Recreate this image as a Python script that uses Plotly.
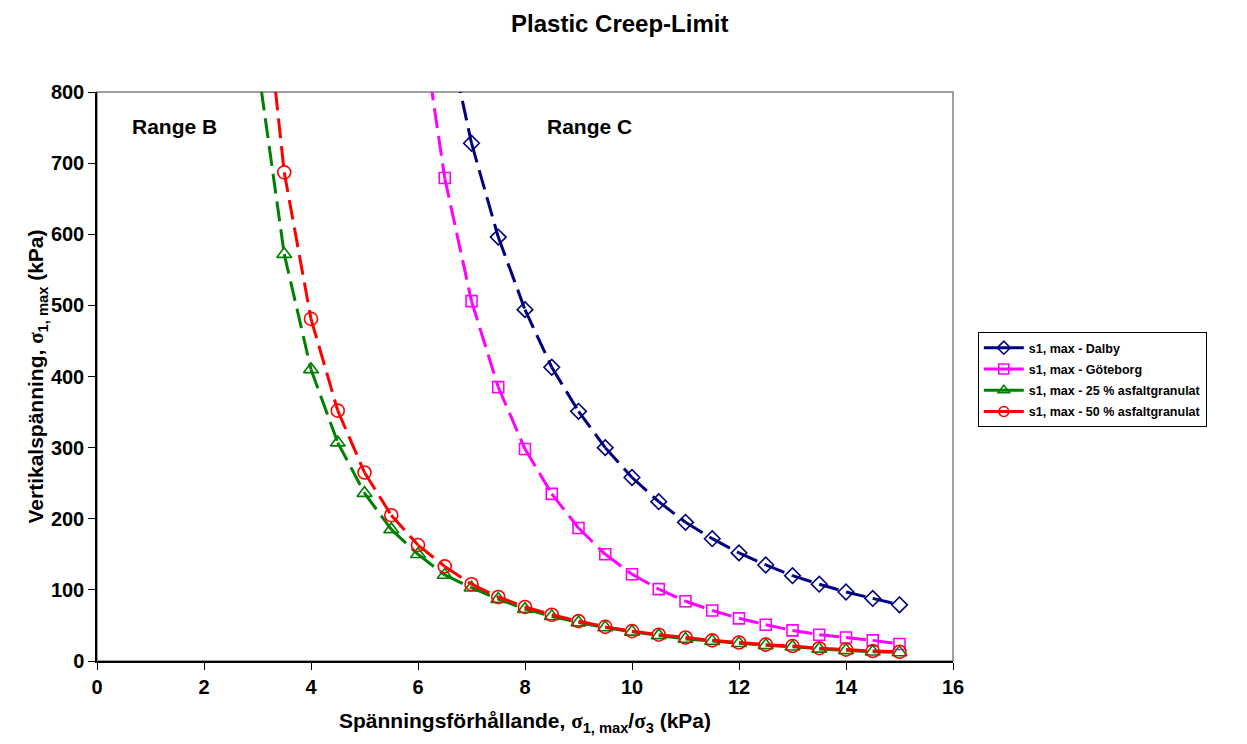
import plotly.graph_objects as go

# Data (x = stress ratio, y = s1,max in kPa); first point of each series lies above the axis range
x_dalby = [6.5, 7, 7.5, 8, 8.5, 9, 9.5, 10, 10.5, 11, 11.5, 12, 12.5, 13, 13.5, 14, 14.5, 15]
y_dalby = [903, 728, 596, 494, 413, 351, 300, 258, 224, 195, 172, 152, 135, 120, 108, 97, 88, 79]

x_gbg = [6, 6.5, 7, 7.5, 8, 8.5, 9, 9.5, 10, 10.5, 11, 11.5, 12, 12.5, 13, 13.5, 14, 14.5, 15]
y_gbg = [933, 679, 506, 385, 298, 235, 187, 150, 122, 101, 84, 71, 60, 51, 43, 37, 33, 29, 24]

x_25 = [3, 3.5, 4, 4.5, 5, 5.5, 6, 6.5, 7, 7.5, 8, 8.5, 9, 9.5, 10, 10.5, 11, 11.5, 12, 12.5, 13, 13.5, 14, 14.5, 15]
y_25 = [841, 572, 410, 307, 236, 185, 150, 121, 103, 87, 73, 63, 54, 47, 41, 36, 31, 28, 25, 22, 20, 17, 15, 13, 12]

x_50 = [3, 3.5, 4, 4.5, 5, 5.5, 6, 6.5, 7, 7.5, 8, 8.5, 9, 9.5, 10, 10.5, 11, 11.5, 12, 12.5, 13, 13.5, 14, 14.5, 15]
y_50 = [1037, 687, 481, 352, 265, 205, 163, 133, 108, 90, 76, 65, 56, 48, 42, 37, 33, 29, 26, 23, 21, 18, 16, 14, 13]

x_ticks = [0, 2, 4, 6, 8, 10, 12, 14, 16]
y_ticks = [0, 100, 200, 300, 400, 500, 600, 700, 800]

names = ["s1, max - Dalby", "s1, max - Göteborg", "s1, max - 25 % asfaltgranulat", "s1, max - 50 % asfaltgranulat"]
xs = [x_dalby, x_gbg, x_25, x_50]
ys = [y_dalby, y_gbg, y_25, y_50]
colors = ["#000080", "#FF00FF", "#008000", "#FF0000"]
symbols = ["diamond-open", "square-open", "triangle-up-open", "circle-open"]
sizes = [12, 11, 13, 13]

DASH = "20px,8px"
LW = 3

fig = go.Figure()
for name, x, y, c, s, sz in zip(names, xs, ys, colors, symbols, sizes):
    # Excel restarts the dash pattern on every segment -> one trace per segment
    for i in range(len(x) - 1):
        fig.add_trace(go.Scatter(x=[x[i], x[i + 1]], y=[y[i], y[i + 1]], mode="lines",
                                 line=dict(color=c, width=LW, dash=DASH),
                                 showlegend=False, hoverinfo="skip", legendgroup=name))
    fig.add_trace(go.Scatter(x=x, y=y, mode="markers",
                             marker=dict(symbol=s, size=sz, color=c, line=dict(color=c, width=1.6)),
                             showlegend=False, legendgroup=name, name=name))
    fig.add_trace(go.Scatter(x=[None], y=[None], mode="lines+markers", name="<b>" + name + "</b>",
                             line=dict(color=c, width=LW, dash="solid"),
                             marker=dict(symbol=s, size=10, color=c, line=dict(color=c, width=1.6)),
                             legendgroup=name))

FONT = "Liberation Sans, Arial, sans-serif"
SIG = "<span style='font-family:Liberation Serif'>σ</span>"

fig.update_layout(
    width=1247, height=744,
    paper_bgcolor="white", plot_bgcolor="white",
    margin=dict(l=97, r=294, t=92, b=83),
    font=dict(family=FONT, size=20, color="black"),
    title=dict(text="<b>Plastic Creep-Limit</b>", x=0.497, xanchor="center", y=0.968, yanchor="middle",
               font=dict(size=24, family=FONT)),
    showlegend=True,
    legend=dict(x=1.029, y=0.578, xanchor="left", yanchor="top",
                bordercolor="black", borderwidth=1, bgcolor="white",
                font=dict(size=12.5, family=FONT), itemwidth=40, tracegroupgap=2),
    xaxis=dict(range=[0, 16], tickvals=x_ticks,
               ticktext=["<b>%d</b>" % v for v in x_ticks],
               ticks="outside", ticklen=7, tickcolor="black", tickwidth=1,
               showline=True, linecolor="black", linewidth=1.5, mirror=False,
               showgrid=False, zeroline=False, tickfont=dict(size=20),
               title=dict(text="<b>Spänningsförhållande, " + SIG + "<sub>1, max</sub>/" + SIG + "<sub>3</sub> (kPa)</b>",
                          font=dict(size=21), standoff=17)),
    yaxis=dict(range=[0, 800], tickvals=y_ticks,
               ticktext=["<b>%d</b>" % v for v in y_ticks],
               ticks="outside", ticklen=7, tickcolor="black", tickwidth=1,
               showline=True, linecolor="black", linewidth=1.5,
               showgrid=False, zeroline=False, tickfont=dict(size=20),
               title=dict(text="<b>Vertikalspänning, " + SIG + "<sub>1, max</sub> (kPa)</b>",
                          font=dict(size=21), standoff=0)),
    shapes=[dict(type="rect", xref="paper", yref="paper", x0=0, x1=1, y0=0, y1=1,
                 line=dict(color="#808080", width=1.5), layer="below")],
    annotations=[
        dict(text="<b>Range B</b>", x=1.45, y=752, xref="x", yref="y", showarrow=False,
             font=dict(size=21, family=FONT)),
        dict(text="<b>Range C</b>", x=9.2, y=752, xref="x", yref="y", showarrow=False,
             font=dict(size=21, family=FONT)),
    ],
)

fig.write_html("out.html")
